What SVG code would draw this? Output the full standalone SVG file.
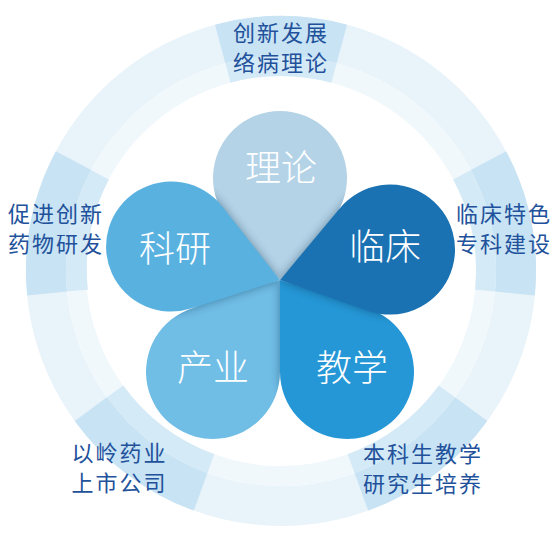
<svg xmlns="http://www.w3.org/2000/svg" xmlns:xlink="http://www.w3.org/1999/xlink" width="560" height="544" viewBox="0 0 560 544">
<style>
.lbl{font-family:"Noto Sans CJK SC","Noto Sans",sans-serif;font-size:22px;fill:#22519b;text-anchor:middle;letter-spacing:2px}
.pt{font-family:"Noto Sans CJK SC","Noto Sans",sans-serif;font-size:36px;font-weight:300;fill:#ffffff;text-anchor:middle}
.bo{fill:#c8e3f4}
.bi{fill:#d5eaf7}
.shd{fill:#0b2a45;opacity:0.42}
</style>
<defs>
<filter id="blur" x="-50%" y="-50%" width="200%" height="200%"><feGaussianBlur stdDeviation="5"/></filter>
<path id="s-lilun" d="M280,280 L229.5,222 A67,67 0 1 1 330.5,222 Z"/>
<path id="s-chanye" d="M280,280 L283,330 L280,372 A67,67 0 1 1 192.4,308.2 L225,294 Z"/>
<path id="s-jiaoxue" d="M280,280 L367.6,308.2 A67,67 0 1 1 280,372 Z"/>
<path id="s-linchuang" d="M280,280 L340.1,207.9 A65,65 0 1 1 368.6,310.9 Z"/>
<path id="s-keyan" d="M280,280 L190.8,308.5 A65,65 0 1 1 222.1,206.3 Z"/>
<clipPath id="c-jx"><use href="#s-chanye"/></clipPath>
<clipPath id="c-lc"><use href="#s-lilun"/><use href="#s-jiaoxue"/></clipPath>
<clipPath id="c-ky"><use href="#s-lilun"/><use href="#s-chanye"/></clipPath>
</defs>

<g id="ring">
<circle cx="281" cy="271" r="235" fill="none" stroke="#e8f3fa" stroke-width="40"/>
<circle cx="281" cy="271" r="205" fill="none" stroke="#f1f8fc" stroke-width="20"/>
</g>

<g id="label-top">
<path class="bo" d="M215.00,24.69 A255,255 0 0 1 347.00,24.69 L336.65,63.33 A215,215 0 0 0 225.35,63.33 Z"/>
<path class="bi" d="M225.35,63.33 A215,215 0 0 1 336.65,63.33 L331.47,82.64 A195,195 0 0 0 230.53,82.64 Z"/>
<text class="lbl" x="281" y="41">创新发展</text>
<text class="lbl" x="281" y="70.5">络病理论</text>
</g>

<g id="label-right">
<path class="bo" d="M506.15,151.29 A255,255 0 0 1 534.83,295.44 L495.01,291.61 A215,215 0 0 0 470.83,170.06 Z"/>
<path class="bi" d="M470.83,170.06 A215,215 0 0 1 495.01,291.61 L475.10,289.69 A195,195 0 0 0 453.18,179.45 Z"/>
<text class="lbl" x="504" y="221.5">临床特色</text>
<text class="lbl" x="504" y="251.5">专科建设</text>
</g>

<g id="label-lower-right">
<path class="bo" d="M487.30,420.89 A255,255 0 0 1 368.22,510.62 L354.53,473.03 A215,215 0 0 0 454.94,397.37 Z"/>
<path class="bi" d="M454.94,397.37 A215,215 0 0 1 354.53,473.03 L347.69,454.24 A195,195 0 0 0 438.76,385.62 Z"/>
<text class="lbl" x="423" y="462">本科生教学</text>
<text class="lbl" x="423" y="492">研究生培养</text>
</g>

<g id="label-lower-left">
<path class="bo" d="M193.78,510.62 A255,255 0 0 1 74.70,420.89 L107.06,397.37 A215,215 0 0 0 207.47,473.03 Z"/>
<path class="bi" d="M207.47,473.03 A215,215 0 0 1 107.06,397.37 L123.24,385.62 A195,195 0 0 0 214.31,454.24 Z"/>
<text class="lbl" x="119.5" y="461">以岭药业</text>
<text class="lbl" x="119.5" y="491">上市公司</text>
</g>

<g id="label-left">
<path class="bo" d="M27.17,295.44 A255,255 0 0 1 55.85,151.29 L91.17,170.06 A215,215 0 0 0 66.99,291.61 Z"/>
<path class="bi" d="M66.99,291.61 A215,215 0 0 1 91.17,170.06 L108.84,179.45 A195,195 0 0 0 87.90,289.69 Z"/>
<text class="lbl" x="56" y="221.5">促进创新</text>
<text class="lbl" x="56" y="251.5">药物研发</text>
</g>

<g id="petal-lilun">
<use href="#s-lilun" fill="#b4d3e7"/>
<text class="pt" x="281" y="180.5">理论</text>
</g>
<g id="petal-chanye">
<use href="#s-chanye" fill="#70bde6"/>
<text class="pt" x="213" y="381">产业</text>
</g>
<g clip-path="url(#c-jx)"><use href="#s-jiaoxue" class="shd" filter="url(#blur)"/></g>
<g id="petal-jiaoxue">
<use href="#s-jiaoxue" fill="#2597d6"/>
<text class="pt" x="352" y="381">教学</text>
</g>
<g clip-path="url(#c-lc)"><use href="#s-linchuang" class="shd" filter="url(#blur)"/></g>
<g id="petal-linchuang">
<use href="#s-linchuang" fill="#1a72b3"/>
<text class="pt" x="385" y="260">临床</text>
</g>
<g clip-path="url(#c-ky)"><use href="#s-keyan" class="shd" filter="url(#blur)"/></g>
<g id="petal-keyan">
<use href="#s-keyan" fill="#59b1e0"/>
<text class="pt" x="175" y="262">科研</text>
</g>
</svg>
